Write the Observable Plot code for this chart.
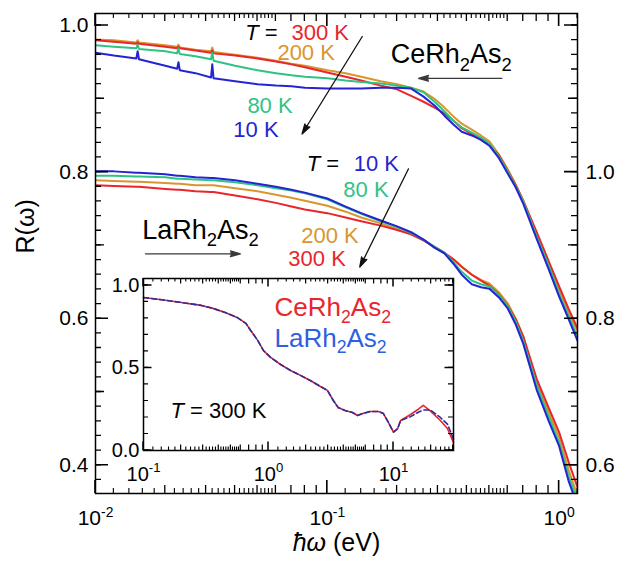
<!DOCTYPE html>
<html>
<head>
<meta charset="utf-8">
<script src="https://cdn.jsdelivr.net/npm/d3@7"></script>
<script src="https://cdn.jsdelivr.net/npm/@observablehq/plot@0.6"></script>
<style>
  html, body { margin: 0; padding: 0; background: #ffffff; }
  #chart { position: relative; width: 618px; height: 565px; overflow: hidden; font-family: "Liberation Sans", Arial, Helvetica, sans-serif; }
  #chart svg { position: absolute; overflow: visible; }
</style>
</head>
<body>
<div id="chart"></div>
<script>
// ---------------- DATA ----------------
// photon energy grid of the main panel (eV)
const energy = [0.0100, 0.0120, 0.0150, 0.0152, 0.0154, 0.0200, 0.0225, 0.0228, 0.0231, 0.0270,
  0.0315, 0.0319, 0.0323, 0.0400, 0.0500, 0.0600, 0.0700, 0.0800, 0.1000, 0.1200,
  0.1400, 0.1700, 0.2000, 0.2300, 0.2600, 0.2900, 0.3200, 0.3500, 0.3800, 0.4200,
  0.4600, 0.5000, 0.5500, 0.6000, 0.6500, 0.7000, 0.8000, 0.9000, 1.0000, 1.1000, 1.2000];

// CeRh2As2 reflectivity (left axis)
const ceR300 = [0.980, 0.978, 0.975, 0.977, 0.975, 0.971, 0.969, 0.971, 0.969, 0.966,
  0.963, 0.966, 0.962, 0.959, 0.955, 0.951, 0.947, 0.943, 0.936, 0.930,
  0.925, 0.918, 0.913, 0.904, 0.896, 0.888, 0.880, 0.870, 0.860, 0.852,
  0.845, 0.837, 0.823, 0.802, 0.782, 0.761, 0.718, 0.679, 0.644, 0.613, 0.587];
const ceR200 = [0.981, 0.980, 0.977, 0.980, 0.977, 0.973, 0.971, 0.974, 0.970, 0.967,
  0.965, 0.970, 0.964, 0.960, 0.956, 0.952, 0.948, 0.945, 0.939, 0.935,
  0.930, 0.924, 0.920, 0.915, 0.910, 0.900, 0.888, 0.876, 0.866, 0.858,
  0.850, 0.842, 0.824, 0.804, 0.783, 0.761, 0.716, 0.677, 0.640, 0.608, 0.583];
const ceR80 = [0.973, 0.971, 0.969, 0.974, 0.968, 0.965, 0.962, 0.969, 0.961, 0.958,
  0.954, 0.963, 0.952, 0.945, 0.939, 0.935, 0.932, 0.930, 0.928, 0.925,
  0.923, 0.921, 0.918, 0.915, 0.909, 0.896, 0.883, 0.870, 0.861, 0.854,
  0.847, 0.839, 0.821, 0.801, 0.780, 0.760, 0.712, 0.673, 0.634, 0.603, 0.576];
const ceR10 = [0.963, 0.959, 0.955, 0.965, 0.954, 0.945, 0.941, 0.950, 0.939, 0.935,
  0.929, 0.947, 0.928, 0.924, 0.920, 0.918, 0.917, 0.915, 0.914, 0.914,
  0.914, 0.915, 0.915, 0.914, 0.903, 0.891, 0.877, 0.865, 0.855, 0.850,
  0.844, 0.836, 0.819, 0.798, 0.779, 0.757, 0.709, 0.668, 0.630, 0.599, 0.570];

// LaRh2As2 reflectivity (right axis)
const laR300 = [0.982, 0.981, 0.980, 0.980, 0.980, 0.977, 0.976, 0.976, 0.976, 0.974,
  0.973, 0.973, 0.973, 0.968, 0.963, 0.958, 0.953, 0.949, 0.944, 0.938,
  0.933, 0.927, 0.921, 0.915, 0.907, 0.898, 0.890, 0.881, 0.871, 0.860,
  0.852, 0.845, 0.833, 0.818, 0.799, 0.776, 0.718, 0.679, 0.645, 0.604, 0.570];
const laR200 = [0.989, 0.988, 0.987, 0.987, 0.987, 0.985, 0.984, 0.984, 0.984, 0.982,
  0.982, 0.982, 0.982, 0.978, 0.974, 0.969, 0.965, 0.961, 0.954, 0.946,
  0.938, 0.930, 0.922, 0.915, 0.907, 0.897, 0.889, 0.881, 0.871, 0.860,
  0.853, 0.848, 0.836, 0.821, 0.800, 0.776, 0.713, 0.673, 0.638, 0.593, 0.559];
const laR80 = [0.995, 0.995, 0.994, 0.994, 0.994, 0.993, 0.991, 0.991, 0.991, 0.990,
  0.989, 0.989, 0.989, 0.986, 0.982, 0.978, 0.975, 0.971, 0.963, 0.952,
  0.943, 0.933, 0.925, 0.917, 0.908, 0.898, 0.890, 0.877, 0.864, 0.852,
  0.847, 0.844, 0.832, 0.817, 0.796, 0.770, 0.709, 0.667, 0.631, 0.585, 0.552];
const laR10 = [1.001, 1.001, 0.999, 0.999, 0.999, 0.997, 0.995, 0.995, 0.995, 0.993,
  0.992, 0.992, 0.992, 0.989, 0.984, 0.980, 0.976, 0.972, 0.964, 0.953,
  0.944, 0.934, 0.926, 0.918, 0.908, 0.897, 0.889, 0.875, 0.860, 0.847,
  0.843, 0.841, 0.829, 0.814, 0.792, 0.766, 0.703, 0.661, 0.626, 0.578, 0.545];

// inset: T = 300 K, wide range
const insetEnergy = [0.10, 0.14, 0.20, 0.29, 0.36, 0.45, 0.56, 0.66, 0.72, 0.82,
  0.91, 1.04, 1.25, 1.5, 1.8, 2.16, 2.6, 2.96, 3.3, 3.6,
  4.1, 4.7, 5.15, 5.65, 6.5, 7.6, 8.3, 9.1, 10.0, 10.8,
  11.4, 13.7, 15.8, 17.3, 19.7, 23.7, 27.0, 30.2];
const insetCe = [0.927, 0.913, 0.897, 0.879, 0.861, 0.836, 0.806, 0.770, 0.727, 0.667,
  0.606, 0.564, 0.521, 0.485, 0.455, 0.424, 0.388, 0.364, 0.303, 0.261,
  0.242, 0.230, 0.212, 0.224, 0.236, 0.236, 0.224, 0.170, 0.111, 0.133,
  0.182, 0.218, 0.250, 0.273, 0.240, 0.182, 0.133, 0.048];
const insetLa = [0.927, 0.913, 0.897, 0.879, 0.861, 0.836, 0.806, 0.770, 0.727, 0.667,
  0.606, 0.564, 0.521, 0.485, 0.455, 0.424, 0.388, 0.364, 0.303, 0.261,
  0.242, 0.230, 0.212, 0.224, 0.236, 0.236, 0.224, 0.170, 0.111, 0.133,
  0.182, 0.205, 0.232, 0.245, 0.246, 0.200, 0.160, 0.070];

// tick labels
const yLeftLabels = [0.4, 0.6, 0.8, 1.0];
const yRightLabels = [0.6, 0.8, 1.0];
const LA_OFFSET = 0.2;   // LaRh2As2 is shifted down by 0.2 (right axis)

// ---------------- STYLE ----------------
const FONT = '"Liberation Sans", Arial, Helvetica, sans-serif';
const tempColor = {"300 K": "#e8262c", "200 K": "#d8962f", "80 K": "#2fc383", "10 K": "#2424d2"};
const CE_INSET = "#e8262c", LA_INSET_LINE = "#2b2f9e", LA_INSET_TEXT = "#2f5fe0";

const mainSeries = [
  ["Ce", "200 K", ceR200], ["Ce", "300 K", ceR300], ["Ce", "80 K", ceR80], ["Ce", "10 K", ceR10],
  ["La", "200 K", laR200], ["La", "300 K", laR300], ["La", "80 K", laR80], ["La", "10 K", laR10]
];
const mainRows = mainSeries.flatMap(([sample, T, vals]) =>
  energy.map((E, i) => ({E, R: vals[i], plotR: sample === "La" ? vals[i] - LA_OFFSET : vals[i],
    key: sample + T, color: tempColor[T]})));

// annotations (data coordinates of the main panel, left-axis units)
const tempNotes = [
  {E: 0.0610, R: 0.990, text: "*T* =", color: "#000", anchor: "end"},
  {E: 0.0700, R: 0.990, text: "300 K", color: tempColor["300 K"], anchor: "start"},
  {E: 0.0609, R: 0.963, text: "200 K", color: tempColor["200 K"], anchor: "start"},
  {E: 0.0452, R: 0.890, text: "80 K", color: tempColor["80 K"], anchor: "start"},
  {E: 0.0393, R: 0.857, text: "10 K", color: tempColor["10 K"], anchor: "start"},
  {E: 0.1125, R: 0.811, text: "*T* =", color: "#000", anchor: "end"},
  {E: 0.1300, R: 0.811, text: "10 K", color: tempColor["10 K"], anchor: "start"},
  {E: 0.1172, R: 0.775, text: "80 K", color: tempColor["80 K"], anchor: "start"},
  {E: 0.0772, R: 0.7135, text: "200 K", color: tempColor["200 K"], anchor: "start"},
  {E: 0.0679, R: 0.682, text: "300 K", color: tempColor["300 K"], anchor: "start"}
];
const formulaNotes = [
  {E: 0.1878, R: 0.960, text: "CeRh_2As_2"},
  {E: 0.0159, R: 0.7207, text: "LaRh_2As_2"}
];
const arrowNotes = [
  {E1: 0.1415, R1: 0.985, E2: 0.0778, R2: 0.852, color: "#111"},
  {E1: 0.2240, R1: 0.8045, E2: 0.1380, R2: 0.6703, color: "#111"},
  {E1: 0.5662, R1: 0.928, E2: 0.2474, R2: 0.928, color: "#3a3a3a"},
  {E1: 0.01642, R1: 0.6885, E2: 0.0422, R2: 0.6885, color: "#3a3a3a"}
];
const insetNotes = [
  {E: 1.117, R: 0.866, text: "CeRh_2As_2", color: CE_INSET, size: 26},
  {E: 1.117, R: 0.680, text: "LaRh_2As_2", color: LA_INSET_TEXT, size: 26},
  {E: 0.1644, R: 0.242, text: "*T* = 300 K", color: "#000", size: 22}
];

// ---------------- HELPERS ----------------
function logTicks(lo, hi) {
  const major = [], minor = [], sub = [];
  for (let p = Math.floor(Math.log10(lo)); p <= Math.ceil(Math.log10(hi)); p++) {
    const b = Math.pow(10, p);
    major.push(b);
    for (let k = 2; k <= 9; k++) minor.push(k * b);
    for (let k = 12; k < 60; k += 2) if (k % 10) sub.push(k / 10 * b);
  }
  const inD = v => v >= lo * 0.9999 && v <= hi * 1.0001;
  return {major: major.filter(inD), minor: minor.filter(inD), sub: sub.filter(inD)};
}
// inward tick marks on all four sides of a plot's frame, positioned through the plot's own scales,
// drawn as paths into an overlay layer (ox, oy = page offset of that plot)
function drawTicks(layer, plot, m, W, H, ox, oy, xSets, ySets) {
  const sx = plot.scale("x"), sy = plot.scale("y");
  const L = ox + m.l, R = ox + W - m.r, T = oy + m.t, B = oy + H - m.b;
  for (const {values, len, sw} of ySets) {
    let d = "";
    for (const v of values) {
      const y = oy + sy.apply(v);
      d += `M${L},${y}H${L + len}M${R - len},${y}H${R}`;
    }
    layer.append("path").attr("d", d).attr("stroke", "#000").attr("stroke-width", sw).attr("fill", "none");
  }
  for (const {values, len, sw} of xSets) {
    let d = "";
    for (const v of values) {
      const x = ox + sx.apply(v);
      d += `M${x},${B - len}V${B}M${x},${T}V${T + len}`;
    }
    layer.append("path").attr("d", d).attr("stroke", "#000").attr("stroke-width", sw).attr("fill", "none");
  }
}
// *italic*, _sub, ^sup markup -> tspans
function richify(svg) {
  svg.querySelectorAll("text").forEach(t => {
    if (t.querySelector("tspan")) return;
    const s = t.textContent;
    if (!/[_^*]/.test(s)) return;
    const fs = parseFloat(getComputedStyle(t).fontSize) || 20;
    t.textContent = "";
    const re = /\*([^*]+)\*|_(\d+)|\^(-?\d+)|([^*_^]+)/g;
    let mm, shift = 0;
    while ((mm = re.exec(s))) {
      const ts = document.createElementNS("http://www.w3.org/2000/svg", "tspan");
      let target = 0, size = null, italic = false, txt;
      if (mm[1] !== undefined) { txt = mm[1]; italic = true; }
      else if (mm[2] !== undefined) { txt = mm[2]; target = 0.26 * fs; size = 0.68 * fs; }
      else if (mm[3] !== undefined) { txt = mm[3]; target = -0.42 * fs; size = 0.66 * fs; }
      else txt = mm[4];
      const dy = target - shift;
      if (dy) ts.setAttribute("dy", dy.toFixed(2));
      shift = target;
      if (size) ts.setAttribute("font-size", size.toFixed(2));
      if (italic) ts.setAttribute("font-style", "italic");
      ts.textContent = txt;
      t.appendChild(ts);
    }
  });
}

// ---------------- MAIN PANEL ----------------
const MM = {w: 618, h: 565, l: 95, r: 41, t: 13, b: 72};
const xt = logTicks(0.01, 1.2);
const yMajor = [0.4, 0.6, 0.8, 1.0];
const yMid = [0.5, 0.7, 0.9];
const yMinor = d3.range(19, 51).map(i => i / 50);

const main = Plot.plot({
  width: MM.w, height: MM.h,
  marginLeft: MM.l, marginRight: MM.r, marginTop: MM.t, marginBottom: MM.b,
  x: {type: "log", domain: [0.01, 1.2]},
  y: {domain: [0.3615, 1.0164]},
  color: {type: "identity"},
  style: {fontFamily: FONT, fontSize: "21px", color: "#000", background: "transparent", overflow: "visible"},
  marks: [
    Plot.line(mainRows, {x: "E", y: "plotR", z: "key", stroke: "color", strokeWidth: 2, clip: true}),
    Plot.axisY({ticks: yLeftLabels, anchor: "left", tickSize: 0, tickPadding: 7, stroke: "none",
      tickFormat: d => d.toFixed(1), fontSize: 21, label: null}),
    Plot.axisY({ticks: yRightLabels.map(v => v - LA_OFFSET), anchor: "right", tickSize: 0, tickPadding: 8, stroke: "none",
      tickFormat: d => (d + LA_OFFSET).toFixed(1), fontSize: 21, label: null}),
    Plot.axisX({ticks: xt.major, anchor: "bottom", tickSize: 0, tickPadding: 17, stroke: "none",
      tickFormat: d => "10^" + Math.round(Math.log10(d)), fontSize: 21, label: null}),
    Plot.frame({stroke: "#000", strokeWidth: 1.5}),
    Plot.arrow(arrowNotes, {x1: "E1", y1: "R1", x2: "E2", y2: "R2", stroke: "color", fill: "color",
      strokeWidth: 1.3, headLength: 12, headAngle: 32}),
    Plot.text(tempNotes.filter(d => d.anchor === "end"), {x: "E", y: "R", text: "text", fill: "color", textAnchor: "end", fontSize: 22}),
    Plot.text(tempNotes.filter(d => d.anchor === "start"), {x: "E", y: "R", text: "text", fill: "color", textAnchor: "start", fontSize: 22}),
    Plot.text(formulaNotes, {x: "E", y: "R", text: "text", fill: "#000", textAnchor: "start", fontSize: 27}),
    Plot.text(["R(ω)"], {text: d => d, frameAnchor: "left", rotate: -90, dx: -70, fontSize: 25}),
    Plot.text(["*ħω* (eV)"], {text: d => d, frameAnchor: "bottom", dy: 57, fontSize: 25})
  ]
});
main.style.left = "0px"; main.style.top = "0px";

// ---------------- INSET ----------------
const II = {w: 356, h: 218, l: 40, r: 6, t: 6, b: 40};
const INSET_LEFT = 143 - II.l, INSET_TOP = 278 - II.t;
const itk = logTicks(0.1, 30.2);
const insetRowsCe = insetEnergy.map((E, i) => ({E, R: insetCe[i]}));
const insetRowsLa = insetEnergy.map((E, i) => ({E, R: insetLa[i]}));
const inset = Plot.plot({
  width: II.w, height: II.h,
  marginLeft: II.l, marginRight: II.r, marginTop: II.t, marginBottom: II.b,
  x: {type: "log", domain: [0.1, 30.2]},
  y: {domain: [0, 1.042]},
  color: {type: "identity"},
  style: {fontFamily: FONT, fontSize: "20px", color: "#000", background: "transparent", overflow: "visible"},
  marks: [
    Plot.frame({fill: "#fff", stroke: "none"}),
    Plot.line(insetRowsCe, {x: "E", y: "R", stroke: CE_INSET, strokeWidth: 1.6}),
    Plot.line(insetRowsLa, {x: "E", y: "R", stroke: LA_INSET_LINE, strokeWidth: 1.6, strokeDasharray: "5,3"}),
    Plot.axisY({ticks: [0, 0.5, 1.0], anchor: "left", tickSize: 0, tickPadding: 4, stroke: "none",
      tickFormat: d => d.toFixed(1), fontSize: 20, label: null}),
    Plot.axisX({ticks: itk.major, anchor: "bottom", tickSize: 0, tickPadding: 16, stroke: "none",
      tickFormat: d => "10^" + Math.round(Math.log10(d)), fontSize: 20, label: null}),
    Plot.frame({stroke: "#000", strokeWidth: 1.5}),
    Plot.text(insetNotes.filter(d => d.size === 26), {x: "E", y: "R", text: "text", fill: "color", textAnchor: "start", fontSize: 26}),
    Plot.text(insetNotes.filter(d => d.size === 22), {x: "E", y: "R", text: "text", fill: "color", textAnchor: "start", fontSize: 22})
  ]
});
inset.style.left = INSET_LEFT + "px"; inset.style.top = INSET_TOP + "px";

const wrap = document.getElementById("chart");
wrap.appendChild(main);
wrap.appendChild(inset);
richify(main);
richify(inset);

// overlay layer for the tick marks (on top of both plots)
const layer = d3.select(wrap).append("svg")
  .attr("width", 618).attr("height", 565)
  .style("left", "0px").style("top", "0px").style("pointer-events", "none");
drawTicks(layer, main, MM, MM.w, MM.h, 0, 0,
  [{values: xt.sub, len: 5, sw: 1.1}, {values: xt.minor, len: 8, sw: 1.3}, {values: xt.major, len: 13, sw: 1.6}],
  [{values: yMinor, len: 6, sw: 1.3}, {values: yMid, len: 9, sw: 1.4}, {values: yMajor, len: 13, sw: 1.6}]);
drawTicks(layer, inset, II, II.w, II.h, INSET_LEFT, INSET_TOP,
  [{values: itk.sub, len: 3.5, sw: 1.1}, {values: itk.minor, len: 5.5, sw: 1.2}, {values: itk.major, len: 8.5, sw: 1.5}],
  [{values: d3.range(0, 11).map(i => i / 10), len: 5, sw: 1.2}, {values: [0, 0.5, 1.0], len: 8.5, sw: 1.5}]);
</script>
</body>
</html>
